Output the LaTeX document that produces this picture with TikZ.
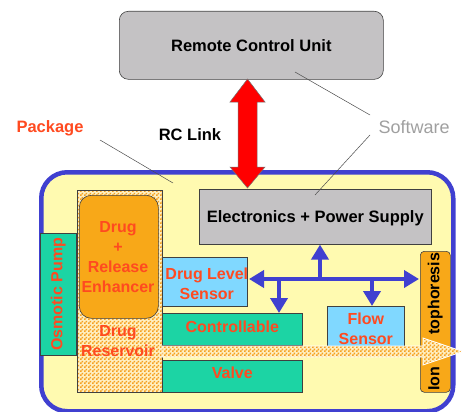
\documentclass[tikz,border=0pt]{standalone}
\usepackage{fontspec}
\setmainfont{Liberation Sans}
\usetikzlibrary{arrows.meta,patterns,calc}
\pgfdeclarepatternformonly{finechk}{\pgfpointorigin}{\pgfqpoint{4pt}{4pt}}{\pgfqpoint{4pt}{4pt}}{%
  \pgfpathrectangle{\pgfpointorigin}{\pgfqpoint{2pt}{2pt}}%
  \pgfpathrectangle{\pgfqpoint{2pt}{2pt}}{\pgfqpoint{2pt}{2pt}}%
  \pgfusepath{fill}}
\definecolor{pkgblue}{HTML}{4040D0}
\definecolor{pkgyellow}{HTML}{FFFAB0}
\definecolor{boxgray}{HTML}{C4C2C4}
\definecolor{txtred}{HTML}{FF4A20}
\definecolor{drugorange}{HTML}{F8A818}
\definecolor{teal}{HTML}{1CD4A4}
\definecolor{skyblue}{HTML}{80D8FF}
\definecolor{chk}{HTML}{F5A020}
\definecolor{chkbg}{HTML}{FFEFC0}
\definecolor{swgray}{HTML}{A0A0A0}
\tikzset{
  box/.style={draw=black!75, line width=0.6pt, inner sep=0pt, anchor=north west},
  graybox/.style={box, fill=boxgray},
  greenbox/.style={box, fill=teal},
  bluebox/.style={box, fill=skyblue},
  checker/.style={preaction={fill=chkbg}, pattern=finechk, pattern color=chk},
  redtxt/.style={text=txtred, font=\fontsize{16}{20}\selectfont\bfseries, align=center},
  blacktxt/.style={font=\fontsize{16.5}{18}\selectfont\bfseries},
  bus/.style={draw=pkgblue, line width=4pt, -{Triangle[length=15pt,width=17pt]}},
  leader/.style={draw=black!70, line width=0.5pt},
}
\begin{document}
\begin{tikzpicture}[x=1pt,y=-1pt]
\useasboundingbox (0,0) rectangle (463,412);
\fill[white] (0,0) rectangle (463,412);

% Remote control unit
\node[graybox, rounded corners=9pt, minimum width=264pt, minimum height=68pt] (rcu) at (119,11) {};
\node[blacktxt] (rcut) at (rcu.center) {Remote Control Unit};

% Package
\node[draw=pkgblue, line width=4.5pt, fill=pkgyellow, rounded corners=26pt, inner sep=0pt, anchor=north west, minimum width=412pt, minimum height=239pt] (pkg) at (39,170) {};

% Drug reservoir
\node[box, checker, minimum width=85pt, minimum height=202pt] (res) at (77,190) {};
\node[box, fill=drugorange, rounded corners=12pt, minimum width=79pt, minimum height=123pt] (drug) at (79,195) {};
\node[redtxt] at (118,257) {Drug\\+\\Release\\Enhancer};
\node[redtxt] (rest) at (118,341) {Drug\\Reservoir};

% Osmotic pump
\node[greenbox, minimum width=36pt, minimum height=122pt] (osm) at (40,233) {};
\node[redtxt, rotate=90] at (osm.center) {Osmotic Pump};

% Electronics
\node[graybox, minimum width=232pt, minimum height=55pt] (elec) at (199,189) {};
\node[blacktxt] at ($(elec.center)+(0,1.5)$) {Electronics + Power Supply};

% Drug level sensor
\node[bluebox, minimum width=85pt, minimum height=49pt] (dls) at (162,257) {};
\node[redtxt] at ($(dls.center)+(2,1.5)$) {Drug Level\\Sensor};

% Controllable valve
\node[greenbox, minimum width=140pt, minimum height=32pt] (ctrl) at (162,313) {};
\node[redtxt] at ($(ctrl.center)+(0,-3)$) {Controllable};
\node[greenbox, minimum width=140pt, minimum height=32pt] (valve) at (162,360) {};
\node[redtxt] at ($(valve.center)+(0,-4)$) {Valve};

% Flow sensor
\node[bluebox, minimum width=77pt, minimum height=40pt] (flow) at (327,306) {};
\node[redtxt] at ($(flow.center)+(0,2)$) {Flow\\Sensor};

% Iontophoresis
\node[box, fill=drugorange, rounded corners=4pt, minimum width=30pt, minimum height=141pt] (ion) at (420,251) {};
\node[rotate=90, font=\fontsize{16}{18}\selectfont\bfseries] at (ion.center) {\makebox[138pt]{Ion\hfill tophoresis}};

% Flow arrow
\coordinate (fs) at (162,351.5);
\coordinate (ft) at (463,351.5);
\path[checker, draw=white, line width=0.8pt]
  ($(fs)+(0,-5.5)$) -- (423,346) -- (423,338) -- (ft) -- (423,365) -- (423,357) -- ($(fs)+(0,5.5)$) -- cycle;

% Blue bus
\coordinate (bl) at (249,279);
\coordinate (br) at (419,279);
\coordinate (bu) at (320,279);
\coordinate (bd1) at (279,279);
\coordinate (bd2) at (372,279);
\draw[bus] (bu) -- (bl);
\draw[bus] (bu) -- (br);
\draw[bus] (bu) -- (bu |- elec.south);
\draw[bus] (bd1) -- (bd1 |- ctrl.north);
\draw[bus] (bd2) -- (bd2 |- flow.north);

% RC link red double arrow
\coordinate (rt) at (247.5,79);
\coordinate (rb) at (247.5,188);
\filldraw[fill=red, draw=black!55, line width=0.5pt]
  (rt) -- ($(rt)+(17.5,23)$) -- ($(rt)+(9.5,23)$) -- ($(rb)+(9.5,-21)$) -- ($(rb)+(17.5,-21)$) -- (rb)
  -- ($(rb)+(-17.5,-21)$) -- ($(rb)+(-9.5,-21)$) -- ($(rt)+(-9.5,23)$) -- ($(rt)+(-17.5,23)$) -- cycle;

% Labels
\node[text=txtred, blacktxt, anchor=west] (pkgl) at (13,128) {Package};
\node[blacktxt] (rcl) at (190,135) {RC Link};
\node[text=swgray, font=\fontsize{18}{20}\selectfont, anchor=west] (sw) at (375,127) {Software};

\coordinate (pa) at (100,140);
\coordinate (pb) at (173,183);
\draw[leader] (pa) -- (pb);
\coordinate (sa) at (295,72);
\coordinate (sb) at (370,115);
\draw[leader] (sa) -- (sb);
\coordinate (sc) at (370,135);
\coordinate (sd) at (315,195);
\draw[leader] (sc) -- (sd);
\end{tikzpicture}
\end{document}
